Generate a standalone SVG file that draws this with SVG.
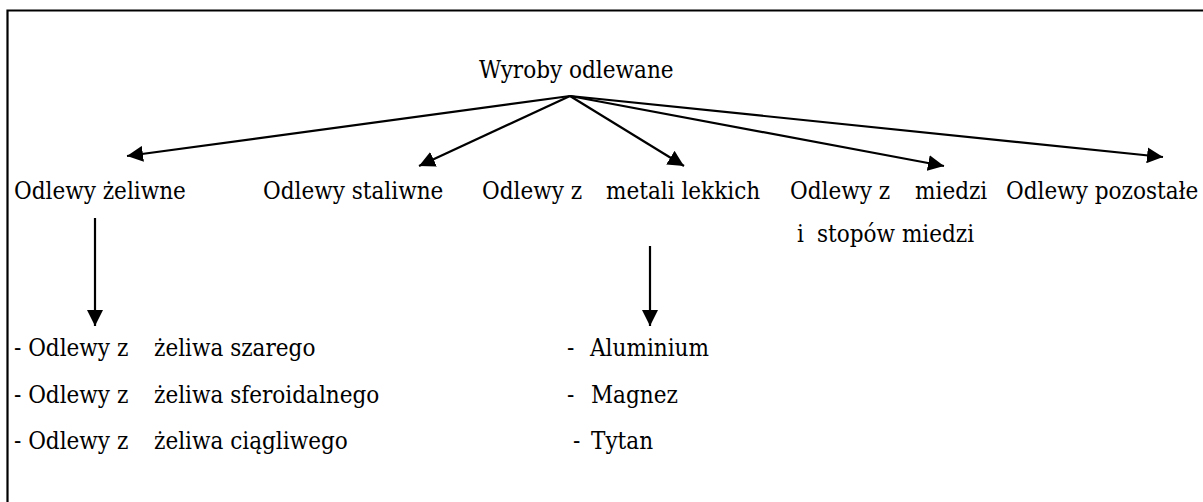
<svg xmlns="http://www.w3.org/2000/svg" width="1203" height="502" viewBox="0 0 1203 502">
  <style>
    .t { font-family: 'DejaVu Serif Condensed', 'DejaVu Serif', 'Liberation Serif', serif; font-size: 24px; fill: #000; }
    .frame { fill: none; stroke: #000; stroke-width: 2.2; }
    .link { stroke: #000; stroke-width: 2.2; fill: none; }
  </style>
  <defs>
    <marker id="arrow" viewBox="0 0 10 10" refX="10" refY="5" markerWidth="16" markerHeight="16" markerUnits="userSpaceOnUse" orient="auto">
      <path d="M0,0 L10,5 L0,10 Z" fill="#000"/>
    </marker>
  </defs>
  <rect width="1203" height="502" fill="#fff"/>
  <!-- open frame: left and top edges -->
  <path class="frame" d="M7.5,502 V10.5 H1203"/>

  <g id="connectors">
    <line class="link" x1="570" y1="96" x2="127" y2="156" marker-end="url(#arrow)"/>
    <line class="link" x1="570" y1="96" x2="419" y2="166" marker-end="url(#arrow)"/>
    <line class="link" x1="570" y1="96" x2="684" y2="166" marker-end="url(#arrow)"/>
    <line class="link" x1="570" y1="96" x2="944" y2="166" marker-end="url(#arrow)"/>
    <line class="link" x1="570" y1="96" x2="1163" y2="157" marker-end="url(#arrow)"/>
    <line class="link" x1="95" y1="218" x2="95" y2="326" marker-end="url(#arrow)"/>
    <line class="link" x1="650" y1="246" x2="650" y2="326" marker-end="url(#arrow)"/>
  </g>

  <g id="root"><text class="t" x="479" y="78">Wyroby odlewane</text></g>

  <g id="zeliwne"><text class="t" x="14" y="199">Odlewy żeliwne</text></g>
  <g id="staliwne"><text class="t" x="263" y="199">Odlewy staliwne</text></g>
  <g id="lekkie"><text class="t" y="199"><tspan x="482">Odlewy z</tspan><tspan x="606">metali lekkich</tspan></text></g>
  <g id="miedz">
    <text class="t" y="199"><tspan x="790">Odlewy z</tspan><tspan x="915">miedzi</tspan></text>
    <text class="t" y="242"><tspan x="797">i</tspan><tspan x="817">stopów miedzi</tspan></text>
  </g>
  <g id="pozostale"><text class="t" x="1006" y="199">Odlewy pozostałe</text></g>

  <g id="lista-zeliwo">
    <text class="t" y="356"><tspan x="14">- Odlewy z</tspan><tspan x="154">żeliwa szarego</tspan></text>
    <text class="t" y="403"><tspan x="14">- Odlewy z</tspan><tspan x="154">żeliwa sferoidalnego</tspan></text>
    <text class="t" y="449"><tspan x="14">- Odlewy z</tspan><tspan x="154">żeliwa ciągliwego</tspan></text>
  </g>

  <g id="lista-lekkie">
    <text class="t" y="356"><tspan x="567">-</tspan><tspan x="590">Aluminium</tspan></text>
    <text class="t" y="403"><tspan x="567">-</tspan><tspan x="591">Magnez</tspan></text>
    <text class="t" y="449"><tspan x="573">-</tspan><tspan x="591">Tytan</tspan></text>
  </g>
</svg>
